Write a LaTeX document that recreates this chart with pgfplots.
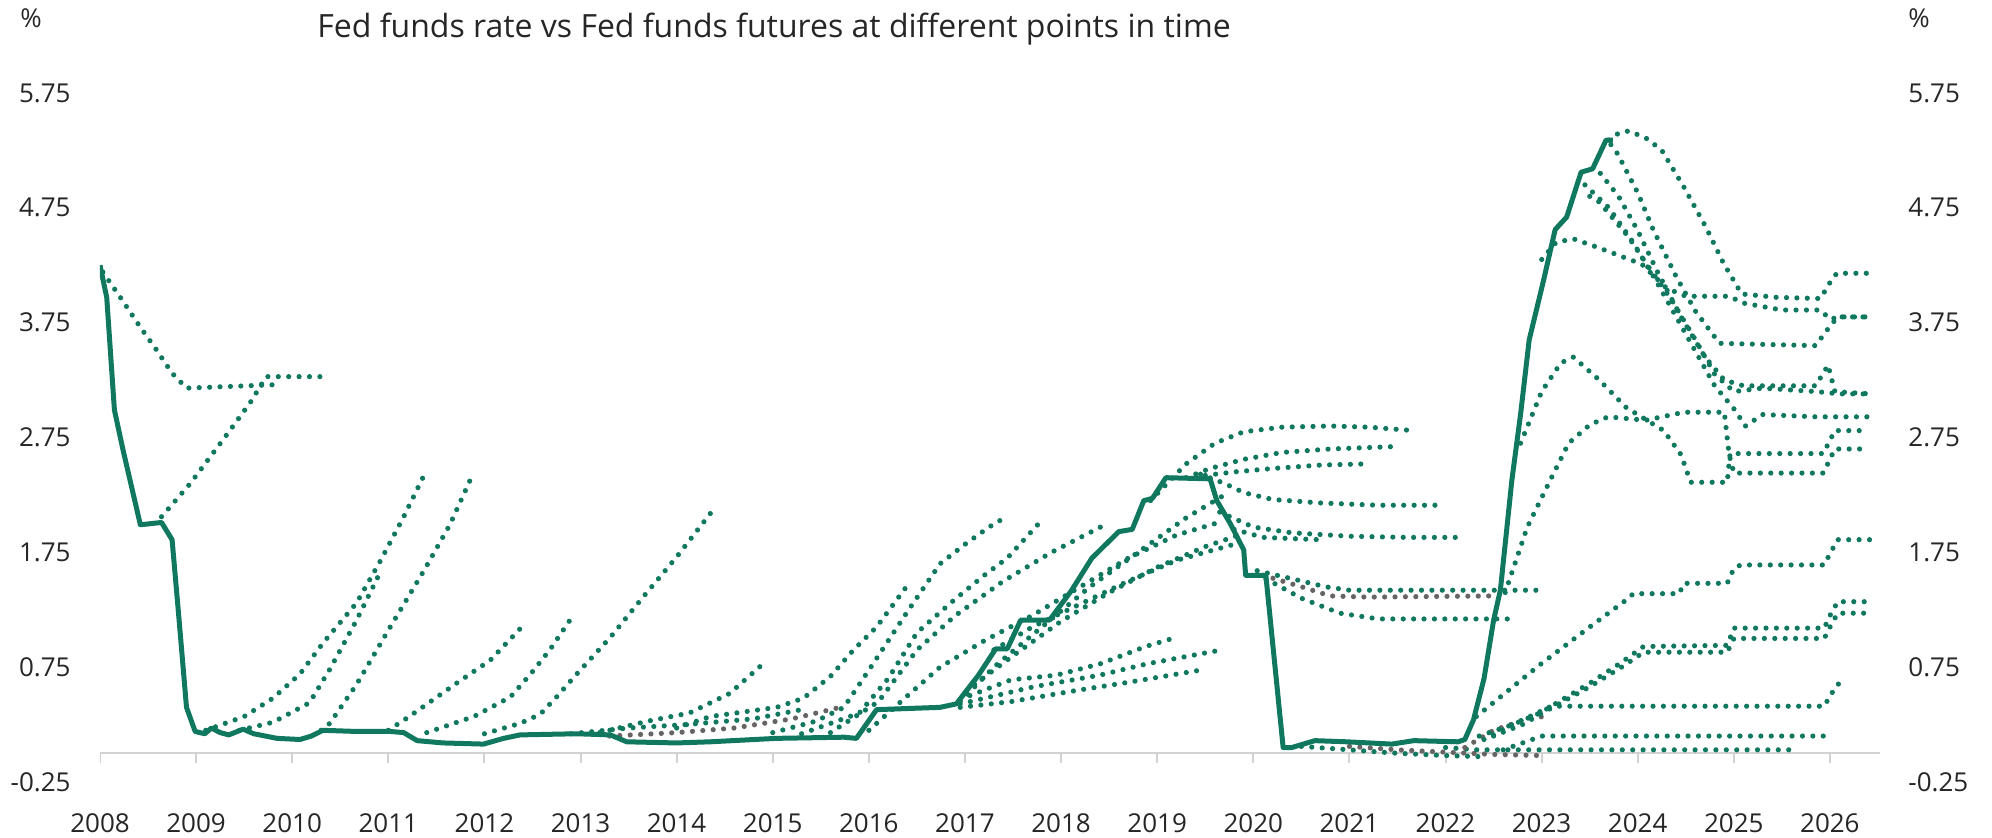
\documentclass[border=0pt]{standalone}
\usepackage{pgfplots}
\pgfplotsset{compat=1.18}
\usepackage{fontspec}
\setmainfont{Open Sans}

\definecolor{fgreen}{RGB}{16,120,94}
\definecolor{fgrey}{RGB}{105,100,100}
\definecolor{axgrey}{RGB}{210,210,210}
\definecolor{txt}{RGB}{38,38,38}

\begin{document}
\begin{tikzpicture}
\useasboundingbox (0,0) rectangle (996pt,419pt);

\pgfplotsset{
  fut/.style={color=fgreen, line width=2.6pt, line cap=round, line join=round, dash pattern=on 0pt off 5.2pt},
  futg/.style={fut, color=fgrey},
}

\begin{axis}[
  at={(50pt,28pt)}, anchor=south west,
  width=890pt, height=344.5pt, scale only axis,
  xmin=2008, xmax=2026.52,
  ymin=-0.25, ymax=5.75,
  axis line style={draw=none},
  tick style={draw=none},
  no markers,
  xtick={2008,...,2026},
  xticklabels={2008,2009,2010,2011,2012,2013,2014,2015,2016,2017,2018,2019,2020,2021,2022,2023,2024,2025,2026},
  xticklabel style={anchor=center, yshift=-20.5pt, font=\fontsize{13}{15}\selectfont, text=txt},
  ytick={-0.25,0.75,1.75,2.75,3.75,4.75,5.75},
  yticklabels={-0.25,0.75,1.75,2.75,3.75,4.75,5.75},
  yticklabel style={inner sep=0pt, xshift=-14.5pt, font=\fontsize{13}{15}\selectfont, text=txt},
]
% zero line and year ticks
\addplot[axgrey, line width=1pt] coordinates {(2008,0) (2026.52,0)};
\addplot[axgrey, line width=1pt, ycomb] table {
2008 -0.087
2009 -0.087
2010 -0.087
2011 -0.087
2012 -0.087
2013 -0.087
2014 -0.087
2015 -0.087
2016 -0.087
2017 -0.087
2018 -0.087
2019 -0.087
2020 -0.087
2021 -0.087
2022 -0.087
2023 -0.087
2024 -0.087
2025 -0.087
2026 -0.087
};

% ---- futures curves, 2008-2012
\addplot[fut] table {
2008.03 4.19
2008.22 3.96
2008.42 3.71
2008.59 3.51
2008.75 3.31
2008.90 3.18
2009.84 3.21
};
\addplot[fut] table {
2008.64 2.06
2008.94 2.35
2009.28 2.73
2009.56 3.05
2009.73 3.28
2010.36 3.28
};
\addplot[fut] table {
2009.10 0.20
2009.50 0.32
2009.80 0.48
2010.08 0.69
2010.32 0.96
2010.67 1.31
2010.92 1.68
2011.16 2.06
2011.40 2.47
};
\addplot[fut] table {
2009.45 0.20
2009.80 0.27
2010.18 0.44
2010.39 0.73
2010.67 1.16
2010.90 1.55
};
\addplot[fut] table {
2010.30 0.20
2010.39 0.26
2010.67 0.60
2011.02 1.10
2011.37 1.59
2011.64 1.99
2011.89 2.45
};
\addplot[fut] table {
2011.00 0.20
2011.20 0.31
2011.37 0.41
2011.71 0.61
2012.06 0.81
2012.40 1.11
};
\addplot[fut] table {
2011.40 0.18
2011.89 0.32
2012.27 0.49
2012.48 0.69
2012.68 0.90
2012.89 1.16
};
\addplot[fut] table {
2012.00 0.17
2012.37 0.26
2012.58 0.34
2012.75 0.49
2012.96 0.69
2013.31 1.01
2013.65 1.36
2014.00 1.71
2014.38 2.12
};
% ---- 2013-2016
\addplot[fut] table {
2013.20 0.18
2013.70 0.28
2014.13 0.35
2014.55 0.52
2014.90 0.78
};
\addplot[fut] table {
2012.90 0.17
2013.50 0.22
2014.10 0.25
2014.80 0.30
2015.30 0.38
};
\addplot[futg] table {
2013.30 0.15
2014.00 0.18
2014.60 0.22
2015.20 0.30
2015.70 0.40
};
\addplot[fut] table {
2014.00 0.22
2014.35 0.32
2015.04 0.40
2015.32 0.48
2015.60 0.67
2015.84 0.90
2016.08 1.10
2016.39 1.45
};
\addplot[fut] table {
2015.00 0.18
2015.45 0.28
2015.74 0.40
2016.02 0.75
2016.39 1.22
2016.74 1.65
2017.00 1.82
2017.25 1.97
2017.39 2.04
};
\addplot[fut] table {
2015.30 0.17
2015.90 0.35
2016.20 0.65
2016.50 1.05
2016.88 1.33
2017.20 1.55
2017.44 1.70
2017.81 2.04
};
\addplot[fut] table {
2015.60 0.18
2016.10 0.45
2016.50 0.90
2016.90 1.20
2017.40 1.50
2017.90 1.75
2018.41 1.97
};
\addplot[fut] table {
2016.00 0.20
2016.40 0.50
2016.74 0.75
2017.20 0.98
2017.70 1.20
2018.20 1.45
2018.70 1.70
2019.20 1.90
2019.60 2.00
};
% ---- 2017-2019 fan
\addplot[fut] table {
2016.95 0.45
2017.30 0.75
2017.80 1.10
2018.30 1.45
2018.80 1.75
2019.30 2.05
2019.70 2.25
};
\addplot[fut] table {
2017.10 0.60
2017.50 0.85
2018.00 1.15
2018.50 1.40
2019.00 1.62
2019.50 1.80
2019.85 1.90
};
\addplot[fut] table {
2017.30 0.90
2017.70 1.10
2018.20 1.30
2018.70 1.50
2019.20 1.68
2019.80 1.82
};
\addplot[fut] table {
2016.95 0.47
2017.48 0.64
2017.95 0.68
2018.41 0.78
2018.88 0.93
2019.16 1.00
};
\addplot[fut] table {
2016.95 0.43
2017.72 0.58
2018.40 0.68
2018.90 0.78
2019.67 0.90
};
\addplot[fut] table {
2016.95 0.40
2017.48 0.45
2018.18 0.55
2018.64 0.61
2019.42 0.72
};
% ---- 2019-2022
\addplot[fut] table {
2018.93 2.20
2019.30 2.52
2019.60 2.70
2019.90 2.80
2020.30 2.84
2020.80 2.85
2021.20 2.84
2021.67 2.81
};
\addplot[fut] table {
2019.30 2.40
2019.55 2.48
2019.90 2.56
2020.30 2.62
2020.80 2.65
2021.44 2.67
};
\addplot[fut] table {
2019.50 2.42
2019.80 2.45
2020.20 2.48
2020.70 2.51
2021.18 2.52
};
\addplot[fut] table {
2019.45 2.43
2019.70 2.35
2019.90 2.27
2020.20 2.21
2020.70 2.18
2021.30 2.16
2021.91 2.16
};
\addplot[fut] table {
2019.65 2.10
2020.00 1.97
2020.40 1.92
2021.00 1.89
2021.60 1.88
2022.20 1.88
};
\addplot[fut] table {
2019.80 1.95
2020.10 1.88
2020.69 1.86
};
\addplot[fut] table {
2020.04 1.59
2020.40 1.52
2020.75 1.45
2021.00 1.42
2021.50 1.42
2022.95 1.42
};
\addplot[futg] table {
2020.10 1.55
2020.50 1.45
2020.80 1.37
2021.20 1.36
2022.46 1.37
};
\addplot[fut] table {
2020.13 1.52
2020.50 1.35
2020.90 1.22
2021.30 1.17
2022.67 1.17
};
\addplot[fut] table {
2020.50 0.06
2021.00 0.03
2021.50 0.00
2022.00 -0.02
2022.40 -0.03
};
\addplot[futg] table {
2021.00 0.06
2021.50 0.03
2022.00 0.01
2022.50 -0.01
2023.00 -0.02
};
% ---- 2022-2026
\addplot[fut] table {
2022.00 0.05
2022.33 0.03
2025.67 0.03
};
\addplot[fut] table {
2022.60 0.03
2022.80 0.09
2023.00 0.15
2025.94 0.15
};
\addplot[futg] table {
2022.20 0.05
2022.50 0.20
2022.85 0.30
2023.10 0.33
};
\addplot[fut] table {
2022.40 0.12
2022.70 0.25
2022.90 0.33
2023.10 0.41
2025.94 0.41
2026.00 0.50
2026.08 0.60
2026.17 0.63
};
\addplot[fut] table {
2022.35 0.15
2022.70 0.25
2022.98 0.35
2023.50 0.61
2023.81 0.78
2024.06 0.93
2024.93 0.94
2025.00 1.09
2025.94 1.09
2026.00 1.20
2026.08 1.32
2026.43 1.32
};
\addplot[fut] table {
2022.50 0.15
2022.80 0.25
2023.05 0.37
2023.50 0.58
2023.85 0.76
2024.06 0.88
2024.93 0.88
2025.00 1.00
2025.94 1.00
2026.00 1.10
2026.08 1.22
2026.43 1.22
};
\addplot[fut] table {
2022.32 0.32
2022.98 0.77
2023.50 1.10
2023.92 1.36
2023.95 1.39
2024.43 1.39
2024.48 1.48
2024.93 1.48
2025.00 1.61
2025.07 1.64
2025.94 1.64
2026.00 1.74
2026.08 1.86
2026.43 1.86
};
\addplot[fut] table {
2022.78 2.70
2023.00 3.15
2023.20 3.40
2023.33 3.45
2023.60 3.25
2023.88 3.01
2024.27 2.81
2024.45 2.60
2024.55 2.36
2024.93 2.36
2024.96 2.61
2025.93 2.61
2026.05 2.81
2026.41 2.81
};
\addplot[fut] table {
2022.62 1.40
2022.85 1.97
2023.09 2.38
2023.28 2.70
2023.50 2.86
2023.69 2.93
2024.08 2.90
2024.48 2.97
2024.90 2.97
2024.95 2.60
2025.00 2.44
2025.93 2.44
2026.05 2.65
2026.41 2.65
};
\addplot[fut] table {
2023.70 5.34
2023.80 5.40
2023.91 5.42
2024.10 5.35
2024.25 5.25
2024.48 4.93
2024.71 4.58
2024.89 4.27
2025.08 4.00
2025.45 3.97
2025.90 3.96
2026.00 4.10
2026.07 4.18
2026.41 4.18
};
\addplot[fut] table {
2023.72 5.30
2023.79 5.22
2024.00 4.88
2024.16 4.56
2024.40 4.15
2024.60 3.85
2024.85 3.57
2025.85 3.55
2026.00 3.72
2026.08 3.80
2026.41 3.80
};
\addplot[fut] table {
2023.61 5.05
2023.80 4.85
2024.00 4.55
2024.20 4.20
2024.45 3.80
2024.70 3.45
2024.90 3.25
2025.10 3.20
2025.85 3.20
2025.98 3.38
2026.05 3.15
2026.41 3.13
};
\addplot[fut] table {
2023.45 4.95
2023.70 4.75
2023.95 4.45
2024.20 4.10
2024.40 3.80
2024.60 3.50
2024.80 3.20
2025.00 3.00
2025.12 2.85
2025.30 2.95
2025.85 2.93
2026.41 2.93
};
\addplot[fut] table {
2023.00 4.30
2023.15 4.45
2023.33 4.48
2023.60 4.40
2024.04 4.26
2024.30 4.05
2024.50 3.98
2024.95 3.98
2025.10 3.92
2025.50 3.86
2025.90 3.86
2026.00 3.78
2026.10 3.80
2026.41 3.80
};
\addplot[fut] table {
2023.50 4.85
2023.60 4.80
2023.90 4.50
2024.10 4.25
2024.35 3.95
2024.60 3.60
2024.80 3.30
2025.00 3.15
2025.30 3.18
2025.85 3.15
2026.10 3.13
2026.41 3.13
};

% ---- Fed funds rate
\addplot[color=fgreen, line width=2.5pt, line join=round] table {
2008.00 4.25
2008.07 3.97
2008.15 2.99
2008.24 2.64
2008.42 1.99
2008.64 2.01
2008.75 1.86
2008.82 1.19
2008.90 0.40
2008.99 0.19
2009.09 0.17
2009.16 0.22
2009.25 0.18
2009.34 0.16
2009.49 0.21
2009.60 0.17
2009.84 0.13
2010.08 0.12
2010.20 0.15
2010.32 0.20
2010.67 0.19
2011.02 0.19
2011.16 0.18
2011.30 0.11
2011.57 0.09
2011.99 0.08
2012.20 0.13
2012.37 0.16
2012.96 0.17
2013.31 0.16
2013.48 0.10
2014.00 0.09
2014.35 0.10
2015.04 0.13
2015.74 0.14
2015.87 0.13
2016.08 0.38
2016.74 0.40
2016.91 0.43
2017.02 0.55
2017.14 0.68
2017.32 0.91
2017.44 0.91
2017.58 1.16
2017.88 1.16
2018.11 1.42
2018.32 1.70
2018.60 1.93
2018.74 1.95
2018.86 2.20
2018.95 2.22
2019.09 2.40
2019.55 2.39
2019.62 2.20
2019.76 2.00
2019.90 1.77
2019.92 1.55
2020.13 1.55
2020.31 0.05
2020.40 0.05
2020.64 0.11
2020.97 0.10
2021.44 0.08
2021.67 0.11
2022.13 0.10
2022.20 0.12
2022.29 0.29
2022.40 0.65
2022.50 1.16
2022.57 1.42
2022.69 2.38
2022.78 2.95
2022.87 3.60
2023.02 4.12
2023.14 4.56
2023.26 4.67
2023.41 5.06
2023.53 5.09
2023.67 5.34
2023.74 5.34
};
\end{axis}

% right-hand axis labels
\begin{axis}[
  at={(50pt,28pt)}, anchor=south west,
  width=890pt, height=344.5pt, scale only axis,
  xmin=0, xmax=1,
  ymin=-0.25, ymax=5.75,
  hide x axis,
  axis y line*=right,
  y axis line style={draw=none},
  ytick style={draw=none},
  ytick={-0.25,0.75,1.75,2.75,3.75,4.75,5.75},
  yticklabels={-0.25,0.75,1.75,2.75,3.75,4.75,5.75},
  yticklabel style={anchor=west, inner sep=0pt, xshift=14pt, font=\fontsize{13}{15}\selectfont, text=txt},
]
\addplot[draw=none] coordinates {(0,0) (1,1)};
\end{axis}

\node[anchor=base west, inner sep=0pt, text=txt, font=\fontsize{13}{15}\selectfont] at (10pt,405pt) {\%};
\node[anchor=base west, inner sep=0pt, text=txt, font=\fontsize{13}{15}\selectfont] at (954pt,405pt) {\%};
\node[anchor=base west, inner sep=0pt, text=txt, font=\fontsize{16}{19}\selectfont] at (158.5pt,400pt) {Fed funds rate vs Fed funds futures at different points in time};
\end{tikzpicture}
\end{document}
